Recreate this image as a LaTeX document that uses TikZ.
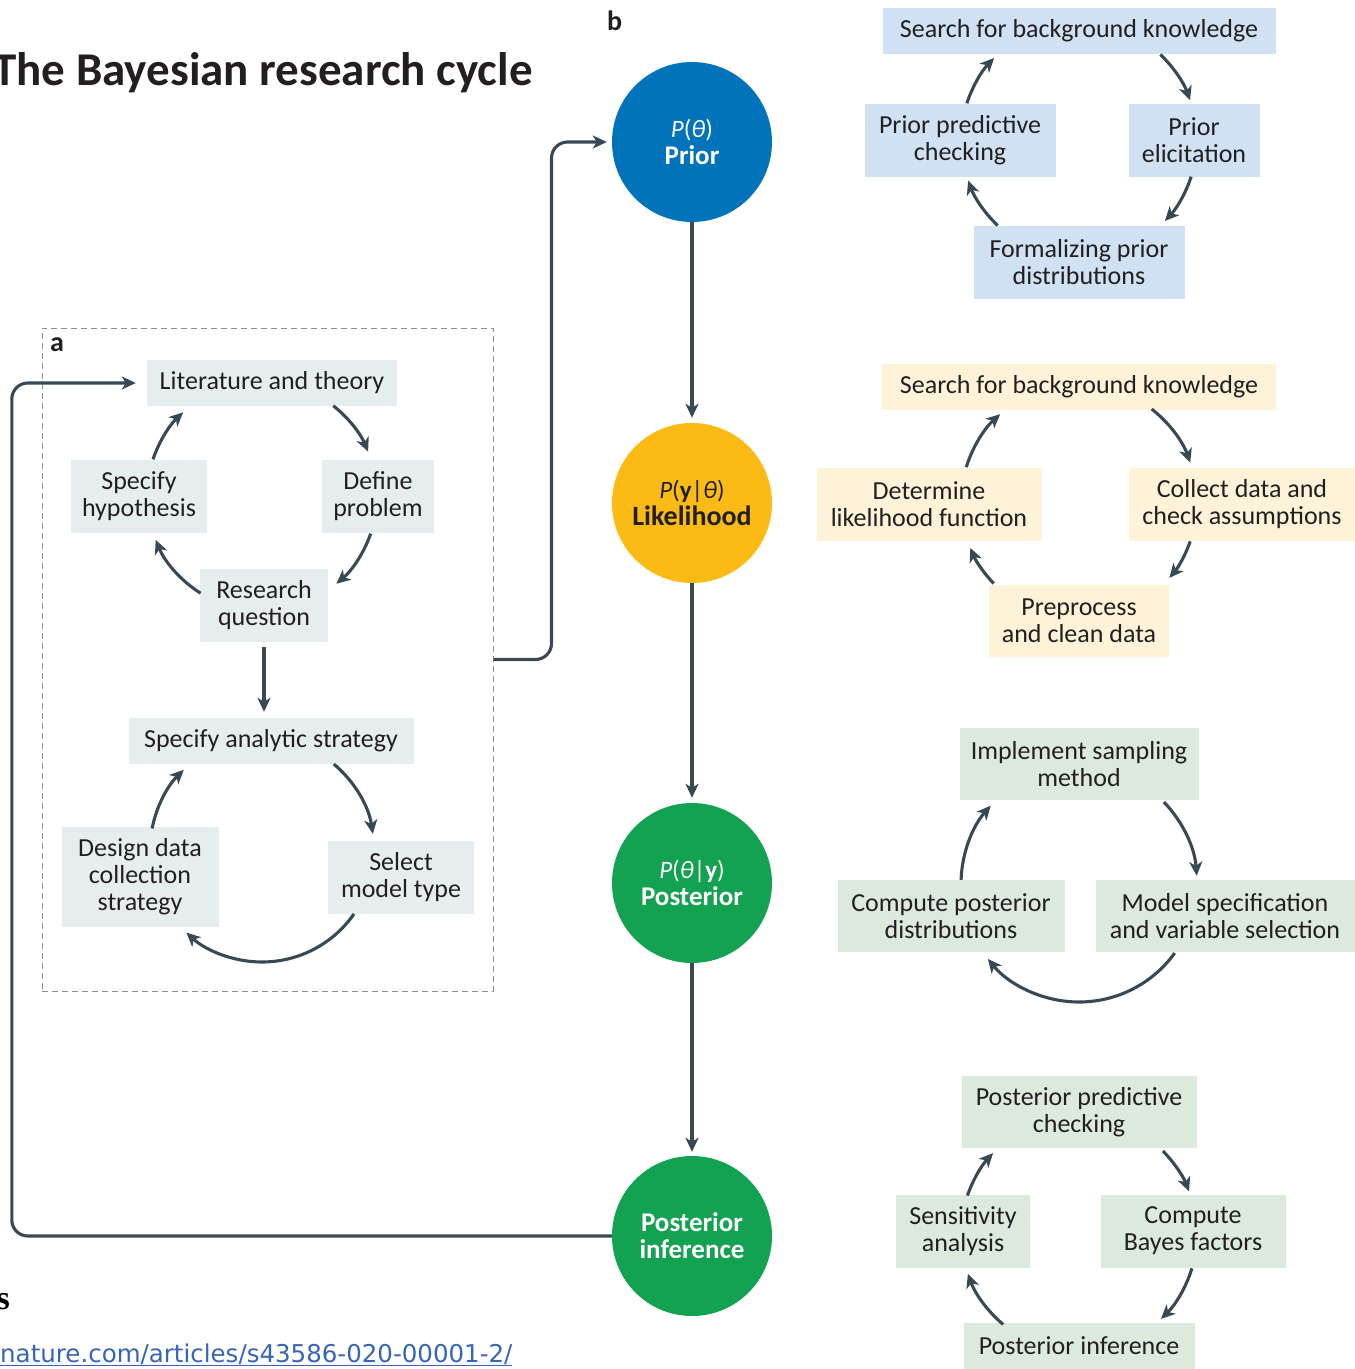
\documentclass[tikz,border=0pt]{standalone}
\usepackage{fontspec}
\setmainfont{Carlito}
\newfontfamily\urlfont{DejaVu Sans}
\newfontfamily\serifface{Liberation Serif}
\usetikzlibrary{arrows.meta,calc}
\definecolor{linec}{RGB}{55,73,84}
\definecolor{txt}{RGB}{35,31,32}
\definecolor{boxa}{RGB}{230,237,239}
\definecolor{boxprior}{RGB}{207,225,242}
\definecolor{boxlik}{RGB}{254,242,217}
\definecolor{boxpost}{RGB}{219,234,221}
\definecolor{cprior}{RGB}{0,115,187}
\definecolor{clik}{RGB}{252,187,20}
\definecolor{cpost}{RGB}{19,161,82}
\definecolor{urlc}{RGB}{55,100,180}
\definecolor{dashc}{RGB}{140,140,140}
\newcommand{\cycarc}[4]{\draw[arr] ($(#1)+(#3:#2)$) arc[start angle=#3,end angle=#4,radius=#2];}
\begin{document}
\begin{tikzpicture}[x=1pt,y=-1pt,
  arr/.style={draw=linec, line width=3.1pt, -{Stealth[length=14pt,width=13pt,inset=4pt]}},
  bx/.style={rectangle, inner sep=0pt, align=center, text=txt, font=\fontsize{26}{27}\selectfont},
  bxa/.style={bx, fill=boxa},
  bxp/.style={bx, fill=boxprior},
  bxl/.style={bx, fill=boxlik},
  bxq/.style={bx, fill=boxpost},
  circ/.style={circle, minimum size=160pt, inner sep=0pt, align=center, font=\fontsize{25}{27}\selectfont},
  lbl/.style={inner sep=0pt, text=txt, font=\fontsize{28}{30}\selectfont\bfseries}
]
\useasboundingbox (0,0) rectangle (1355,1369);

% title and labels
\node[anchor=base east, inner sep=0pt, text=txt, font=\fontsize{47}{50}\selectfont\bfseries] (title) at (533,85) {The Bayesian research cycle};
\node[lbl, anchor=base west] (lb) at (607,30) {b};
\node[lbl, anchor=base west] (la) at (50,351) {a};
\node[anchor=base east, inner sep=0pt, text=black, font=\serifface\bfseries\fontsize{34}{34}\selectfont] (sfrag) at (10,1309) {s};
\node[anchor=base west, inner sep=0pt, text=urlc, font=\urlfont\fontsize{24.5}{26}\selectfont] (url) at (0,1362) {\underline{nature.com/articles/s43586-020-00001-2/}};

% panel a frame
\node[draw=dashc, line width=1pt, dash pattern=on 6pt off 4pt, rectangle, minimum width=451pt, minimum height=663pt, inner sep=0pt] (panela) at (267.5,659.5) {};

% panel a boxes
\node[bxa, minimum width=250pt, minimum height=46pt] (lit) at (272,383) {Literature and theory};
\node[bxa, minimum width=136pt, minimum height=73pt] (hyp) at (139,496) {Specify\\hypothesis};
\node[bxa, minimum width=112pt, minimum height=73pt] (def) at (378,496) {Define\\problem};
\node[bxa, minimum width=128pt, minimum height=73pt] (rq) at (264,605) {Research\\question};
\node[bxa, minimum width=285pt, minimum height=46pt] (sas) at (271,741) {Specify analytic strategy};
\node[bxa, minimum width=157pt, minimum height=100pt] (ddc) at (140,877) {Design data\\collection\\strategy};
\node[bxa, minimum width=146pt, minimum height=73pt] (smt) at (401,877) {Select\\model type};

% circles
\node[circ, fill=cprior, text=white] (prior) at (692,142) {\itshape P\upshape(\itshape θ\upshape)\\\fontsize{27}{27}\selectfont\bfseries Prior};
\node[circ, fill=clik, text=txt] (lik) at (692,503) {\itshape P\upshape(\textbf{y}|\itshape θ\upshape)\\\fontsize{28}{27}\selectfont\bfseries Likelihood};
\node[circ, fill=cpost, text=white] (post) at (692,883) {\itshape P\upshape(\itshape θ\upshape|\textbf{y})\\\fontsize{27}{27}\selectfont\bfseries Posterior};
\node[circ, fill=cpost, text=white, font=\fontsize{27}{27}\selectfont\bfseries] (pinf) at (692,1236) {Posterior\\inference};

% prior cycle
\node[bxp, minimum width=393pt, minimum height=46pt] (s1) at (1079,31) {Search for background knowledge};
\node[bxp, minimum width=191pt, minimum height=73pt] (ppc) at (960,140) {Prior predictive\\checking};
\node[bxp, minimum width=131pt, minimum height=73pt] (pel) at (1194,140) {Prior\\elicitation};
\node[bxp, minimum width=211pt, minimum height=73pt] (fpd) at (1079,262) {Formalizing prior\\distributions};

% likelihood cycle
\node[bxl, minimum width=394pt, minimum height=46pt] (s2) at (1079,387) {Search for background knowledge};
\node[bxl, minimum width=225pt, minimum height=73pt] (dlf) at (929,504) {Determine\\likelihood function};
\node[bxl, minimum width=226pt, minimum height=73pt] (cdc) at (1242,504) {Collect data and\\check assumptions};
\node[bxl, minimum width=180pt, minimum height=72pt] (pcd) at (1079,621) {Preprocess\\and clean data};

% posterior cycle
\node[bxq, minimum width=239pt, minimum height=72pt] (ism) at (1079,764) {Implement sampling\\method};
\node[bxq, minimum width=227pt, minimum height=72pt] (cpd) at (951,916) {Compute posterior\\distributions};
\node[bxq, minimum width=259pt, minimum height=72pt] (msv) at (1225,916) {Model specification\\and variable selection};

% inference cycle
\node[bxq, minimum width=235pt, minimum height=72pt] (ppc2) at (1079,1112) {Posterior predictive\\checking};
\node[bxq, minimum width=134pt, minimum height=73pt] (sa) at (963,1231) {Sensitivity\\analysis};
\node[bxq, minimum width=185pt, minimum height=73pt] (cbf) at (1193,1231) {Compute\\Bayes factors};
\node[bxq, minimum width=231pt, minimum height=46pt] (pi) at (1079,1346) {Posterior inference};

% cycle centres
\coordinate (ca1) at (262,496);
\coordinate (ca2) at (262,850);
\coordinate (cb1) at (1079,140);
\coordinate (cb2) at (1079,502);
\coordinate (cb3) at (1079,884);
\coordinate (cb4) at (1079,1234);

% panel a arcs
\cycarc{ca1}{115}{198.6}{226.7}
\cycarc{ca1}{115}{308.3}{337.3}
\cycarc{ca1}{115}{19.1}{49.7}
\cycarc{ca1}{115}{122.3}{157.6}
\cycarc{ca2}{112}{191.1}{225.7}
\cycarc{ca2}{112}{309.9}{351.7}
\cycarc{ca2}{112}{34.8}{132.5}

% panel b arcs
\cycarc{cb1}{118}{198.1}{224}
\cycarc{cb1}{118}{313.6}{340.3}
\cycarc{cb1}{118}{18.1}{43.3}
\cycarc{cb1}{118}{133.6}{159.9}
\cycarc{cb2}{118}{197.2}{228.1}
\cycarc{cb2}{118}{308}{340.5}
\cycarc{cb2}{118}{19.5}{40}
\cycarc{cb2}{118}{136.3}{157.1}
\cycarc{cb3}{118}{182}{221.6}
\cycarc{cb3}{118}{316}{356}
\cycarc{cb3}{118}{35.8}{140.6}
\cycarc{cb4}{118}{199}{223.3}
\cycarc{cb4}{118}{315.3}{338.8}
\cycarc{cb4}{118}{16.9}{46}
\cycarc{cb4}{118}{130}{160.3}

% main flow
\draw[arr, shorten >=5pt] (prior) -- (lik);
\draw[arr, shorten >=5pt] (lik) -- (post);
\draw[arr, shorten >=4pt] (post) -- (pinf);
\draw[arr, shorten <=5pt, shorten >=6pt] (rq.south) -- (rq.south |- sas.north);
\draw[arr, rounded corners=16pt, shorten >=5pt] (panela.east) -- ++(58,0) |- (prior.west);
\draw[arr, rounded corners=16pt, shorten >=11pt] (pinf.west) -- ++(-600,0) |- (lit.west);
\end{tikzpicture}
\end{document}
